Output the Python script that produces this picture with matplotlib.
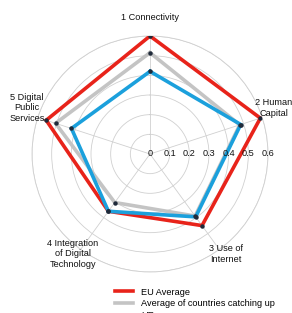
import matplotlib
matplotlib.use('Agg')
import matplotlib.pyplot as plt
import numpy as np

plt.rcParams['font.family'] = ['Liberation Sans', 'DejaVu Sans']

categories = ['1 Connectivity', '2 Human\nCapital', '3 Use of\nInternet',
              '4 Integration\nof Digital\nTechnology', '5 Digital\nPublic\nServices']
eu_avg = [0.60, 0.59, 0.45, 0.36, 0.555]
catching_up = [0.515, 0.48, 0.39, 0.305, 0.505]
hr = [0.42, 0.485, 0.395, 0.36, 0.42]
rticks = [0.1, 0.2, 0.3, 0.4, 0.5, 0.6]

W, H = 292, 313
fig = plt.figure(figsize=(W / 100, H / 100), dpi=100)
ax = fig.add_axes([32 / W, (H - 154 - 118) / H, 236 / W, 236 / H], projection='polar')
ax.set_theta_zero_location('N')
ax.set_theta_direction(-1)

n = len(categories)
angles = np.arange(n) * 2 * np.pi / n
ang = np.append(angles, angles[0])

for vals, col in [(eu_avg, '#e8231a'), (catching_up, '#c4c4c4'), (hr, '#1ba0dc')]:
    v = np.append(vals, vals[0])
    ax.plot(ang, v, color=col, lw=2.6, solid_joinstyle='miter', zorder=3)
    ax.plot(angles, vals, 'o', color='#1f2a3a', ms=2.2, zorder=4)

ax.set_ylim(0, 0.6)
ax.set_yticks(rticks)
ax.set_yticklabels([])
ax.set_xticks(angles)
ax.set_xticklabels([])
ax.grid(color='#d0d0d0', lw=0.6)
ax.spines['polar'].set_color('#d0d0d0')
ax.spines['polar'].set_linewidth(0.6)
ax.set_facecolor('none')

fs = 6.6
for r in [0] + rticks:
    ax.text(np.pi / 2, r, f'{r:g}', ha='center', va='center', fontsize=fs,
            color='#111111', zorder=5)

label_pos = [(150, 18), (274, 108), (226, 254), (73, 254), (27, 108)]
for lab, (x, y) in zip(categories, label_pos):
    fig.text(x / W, 1 - y / H, lab, ha='center', va='center', fontsize=fs,
             color='#111111', linespacing=1.25)

handles = [plt.Line2D([], [], color=c, lw=2.6) for c in ['#e8231a', '#c4c4c4', '#1ba0dc']]
fig.legend(handles, ['EU Average', 'Average of countries catching up', 'HR'],
           loc='upper left', bbox_to_anchor=(115 / W, 1 - 287.7 / H), frameon=False,
           fontsize=fs, handlelength=2.0, handletextpad=0.85, labelspacing=0.29,
           borderpad=0, borderaxespad=0)

fig.savefig('out.png', dpi=100)
